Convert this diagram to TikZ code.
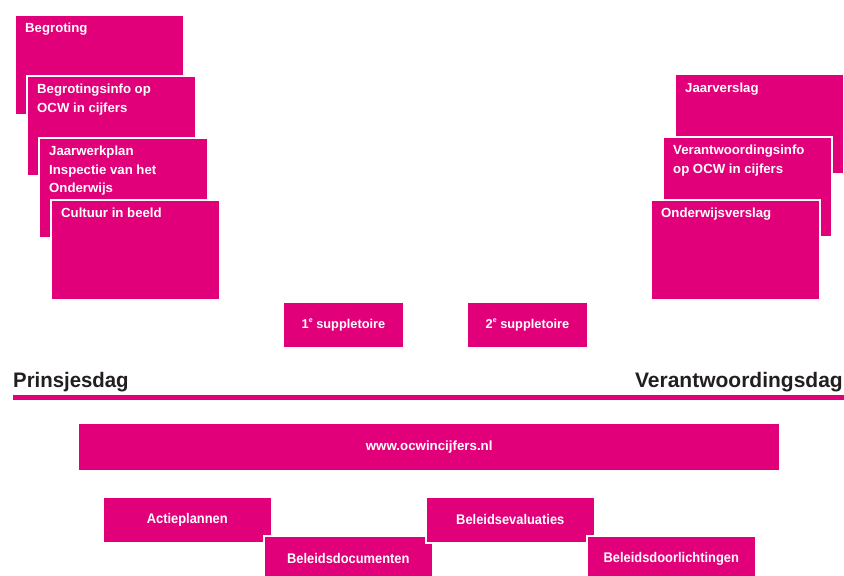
\documentclass[tikz,border=0pt]{standalone}
\usepackage{fontspec}
\setmainfont{Liberation Sans}
\newfontfamily\condf{Liberation Sans}[FakeStretch=0.92]
\newfontfamily\dayf{Liberation Sans}[FakeStretch=0.97]
\definecolor{mag}{RGB}{226,0,122}
\definecolor{ink}{RGB}{35,31,32}
\tikzset{
  card/.style={fill=mag, draw=white, line width=1.6pt, rectangle, inner sep=0pt, anchor=north west, minimum width=169pt, minimum height=100pt},
  pill/.style={fill=mag, draw=white, line width=1.6pt, rectangle, inner sep=0pt, anchor=north west, minimum width=169pt, minimum height=46pt, text=white, font=\condf\bfseries\fontsize{14}{16}\selectfont},
  supp/.style={fill=mag, draw=white, line width=1pt, rectangle, inner sep=0pt, anchor=north west, minimum width=120pt, minimum height=45pt, text=white, font=\bfseries\fontsize{12.8}{15}\selectfont},
  cardtext/.style={text=white, anchor=north west, inner sep=0pt, align=left, font=\bfseries\fontsize{13.2}{18.3}\selectfont},
  daytext/.style={text=ink, inner sep=0pt, font=\bfseries\fontsize{21}{24}\selectfont},
}
\newcommand{\supe}{\raisebox{0.45em}{\fontsize{7}{8}\selectfont e}}
\begin{document}
\begin{tikzpicture}[x=1pt,y=-1pt]
\useasboundingbox (0,0) rectangle (844,576);
% left stack
\node[card] (b1) at (14,14) {};
\node[cardtext] (t1) at ([shift={(11,9)}]b1.north west) {Begroting};
\node[card] (b2) at (26,75) {};
\node[cardtext] (t2) at ([shift={(11,9)}]b2.north west) {Begrotingsinfo op\\OCW in cijfers};
\node[card] (b3) at (38,137) {};
\node[cardtext] (t3) at ([shift={(11,9)}]b3.north west) {Jaarwerkplan\\Inspectie van het\\Onderwijs};
\node[card] (b4) at (50,199) {};
\node[cardtext] (t4) at ([shift={(11,9)}]b4.north west) {Cultuur in beeld};
% right stack
\node[card] (r1) at (674,73) {};
\node[cardtext] (s1) at ([shift={(11,10)}]r1.north west) {Jaarverslag};
\node[card] (r2) at (662,136) {};
\node[cardtext] (s2) at ([shift={(11,9)}]r2.north west) {Verantwoordingsinfo\\op OCW in cijfers};
\node[card] (r3) at (650,199) {};
\node[cardtext] (s3) at ([shift={(11,9)}]r3.north west) {Onderwijsverslag};
% suppletoire
\node[supp] (p1) at (283,302) {1\supe\ suppletoire};
\node[supp] (p2) at (467,302) {2\supe\ suppletoire};
% days and line
\node[daytext, font=\dayf\bfseries\fontsize{21}{24}\selectfont, anchor=base west] (pd) at (13,387) {Prinsjesdag};
\node[daytext, anchor=base east] (vd) at (843,387) {Verantwoordingsdag};
\coordinate (la) at (13,397.5);
\coordinate (lb) at (844,397.5);
\draw[mag, line width=5pt] (la) -- (lb);
% website
\node[fill=mag, rectangle, inner sep=0pt, anchor=north west, minimum width=700pt, minimum height=46pt, text=white, font=\bfseries\fontsize{13.3}{15}\selectfont] (www) at (79,424) {www.ocwincijfers.nl};
% bottom
\node[pill] (a1) at (102,496) {Actieplannen};
\node[pill] (a2) at (263,535) {Beleidsdocumenten};
\node[pill] (a3) at (425,496) {Beleidsevaluaties};
\node[pill] (a4) at (586,535) {Beleidsdoorlichtingen};
\end{tikzpicture}
\end{document}
